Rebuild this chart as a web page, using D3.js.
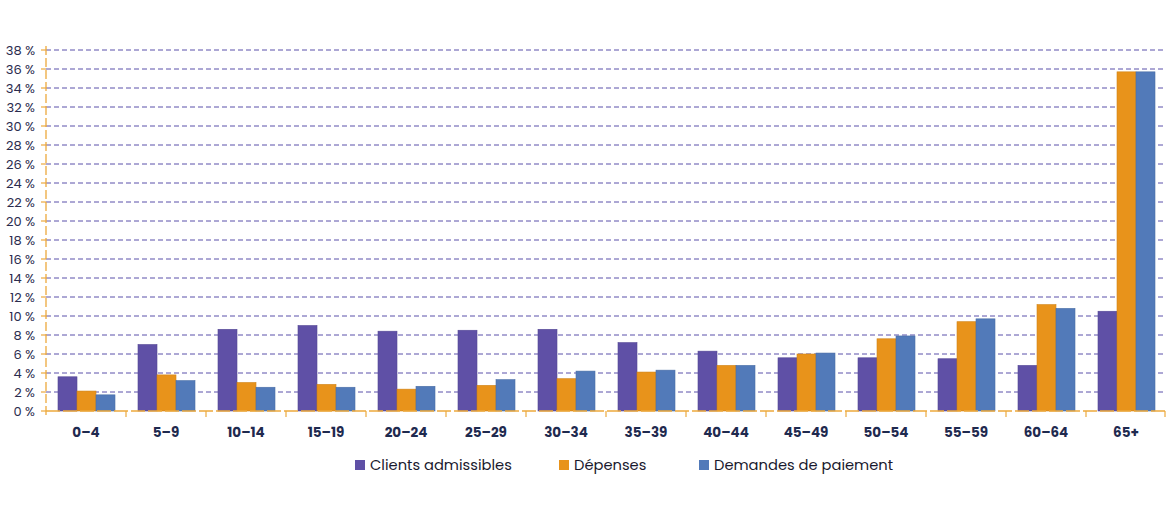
<!DOCTYPE html>
<html><head><meta charset="utf-8">
<script src="https://cdn.jsdelivr.net/npm/d3@7"></script>
<style>body{margin:0;background:#fff}svg{display:block}</style>
</head><body><svg id="c" width="1170" height="509"></svg>
<script>
const categories = ["0-4","5-9","10-14","15-19","20-24","25-29","30-34","35-39","40-44","45-49","50-54","55-59","60-64","65+"];
const clients = [3.6,7.0,8.6,9.0,8.4,8.5,8.6,7.2,6.3,5.6,5.6,5.5,4.8,10.5];
const depenses = [2.1,3.8,3.0,2.8,2.3,2.7,3.4,4.1,4.8,6.0,7.6,9.4,11.2,35.7];
const demandes = [1.7,3.2,2.5,2.5,2.6,3.3,4.2,4.3,4.8,6.1,7.9,9.7,10.8,35.7];
const seriesNames = ["Clients admissibles","Dépenses","Demandes de paiement"];
const colors = ["#5f50a6","#e8931b","#527ab9"];
const yTicks = d3.range(0,39,2);

const svg = d3.select("#c");
const x0 = 46, x1 = 1166, yTop = 50, yBot = 411;
const x = d3.scaleBand().domain(categories).range([x0,x1]).paddingInner(0).paddingOuter(0);
const y = d3.scaleLinear().domain([0,38]).range([yBot,yTop]);
const xs = d3.scaleBand().domain([0,1,2]).range([12,69]);

// gridlines
svg.append("g").selectAll("line").data(yTicks.filter(d=>d>0)).join("line")
  .attr("x1",x0).attr("x2",1163).attr("y1",d=>y(d)).attr("y2",d=>y(d))
  .attr("stroke","#5a51aa").attr("stroke-width",1).attr("stroke-dasharray","5,3");

// y axis labels
const font = "Poppins, 'Open Sans', sans-serif";
svg.append("g").selectAll("text").data(yTicks).join("text")
  .attr("x",35).attr("y",d=>y(d)+4.5).attr("text-anchor","end")
  .attr("font-family",font).attr("font-size",13).attr("fill","#2a2b4d")
  .text(d=>d+" %");
// y ticks
svg.append("g").selectAll("line").data(yTicks).join("line")
  .attr("x1",41).attr("x2",x0).attr("y1",d=>y(d)).attr("y2",d=>y(d))
  .attr("stroke","#eda93c").attr("stroke-width",1.2);

// bars
const series = [clients,depenses,demandes];
const g = svg.append("g");
categories.forEach((c,i)=>{
  series.forEach((s,j)=>{
    g.append("rect").attr("x",x(c)+xs(j)).attr("width",xs.bandwidth())
     .attr("y",y(s[i])).attr("height",y(0)-y(s[i]))
     .attr("fill",colors[j]).attr("stroke",d3.color(colors[j]).darker(0.3)).attr("stroke-width",0.6);
  });
});

// axis lines
svg.append("line").attr("x1",x0).attr("x2",x0).attr("y1",yTop-4).attr("y2",yBot+4)
  .attr("stroke","#eda93c").attr("stroke-width",1.3).attr("stroke-dasharray","9,3");
svg.append("line").attr("x1",x0).attr("x2",x1).attr("y1",yBot).attr("y2",yBot)
  .attr("stroke","#eda93c").attr("stroke-width",1.3).attr("stroke-dasharray","14,3");
svg.append("g").selectAll("line").data(categories.slice(1).concat(["__end"])).join("line")
  .attr("x1",d=>d==="__end"?x1-1:x(d)).attr("x2",d=>d==="__end"?x1-1:x(d))
  .attr("y1",yBot).attr("y2",yBot+6).attr("stroke","#eda93c").attr("stroke-width",1.2);

// x labels
svg.append("g").selectAll("text").data(categories).join("text")
  .attr("x",d=>x(d)+x.bandwidth()/2).attr("y",437).attr("text-anchor","middle")
  .attr("font-family",font).attr("font-weight","bold").attr("font-size",13.5).attr("fill","#1f2a4f")
  .text(d=>d.replace("-","–"));

// legend
const legX = [355,559,699];
const lg = svg.append("g");
seriesNames.forEach((n,j)=>{
  lg.append("rect").attr("x",legX[j]).attr("y",460).attr("width",10).attr("height",10).attr("fill",colors[j]);
  lg.append("text").attr("x",legX[j]+15).attr("y",470).attr("font-family",font).attr("font-size",14.7)
    .attr("fill","#1a1a2e").text(n);
});
</script></body></html>
